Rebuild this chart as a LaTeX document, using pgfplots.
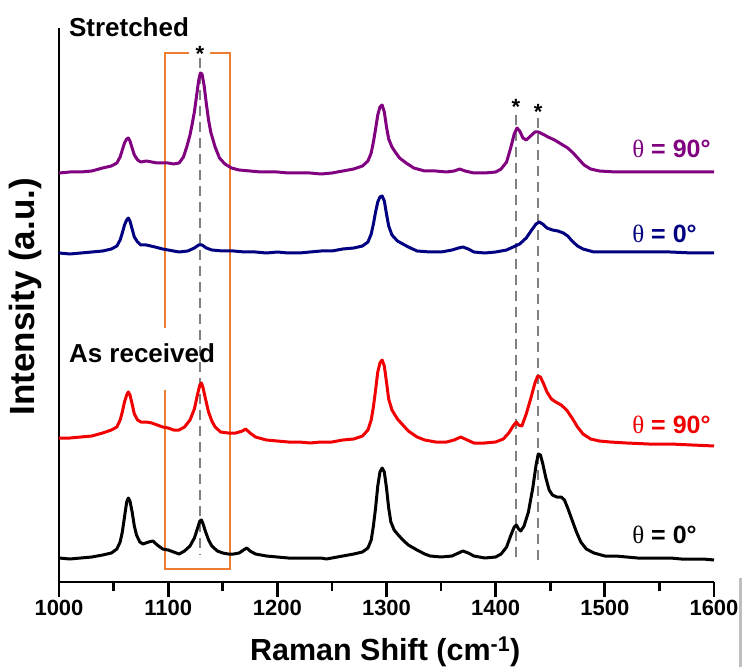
\documentclass[border=0pt]{standalone}
\usepackage{fontspec}
\setmainfont{Liberation Sans}
\newfontfamily\serif{Liberation Serif}
\usepackage{pgfplots}
\pgfplotsset{compat=1.18}

\definecolor{cpurple}{RGB}{128,0,128}
\definecolor{cnavy}{RGB}{0,0,128}
\definecolor{cred}{RGB}{240,0,0}
\definecolor{corange}{RGB}{237,125,49}
\definecolor{cdash}{RGB}{128,128,128}

% y values are offsets of each trace (arbitrary units)
\pgfplotstableread{
x y
1000 24
1010 23
1020 24
1030 25
1040 27
1048 29
1053 33
1056 40
1058 50
1060 65
1062 80
1063.5 84
1065 81
1067 70
1069 56
1071 47
1074 40
1077 38
1082 40
1086 41
1090 37
1095 33
1100 32
1105 30
1110 28
1115 31
1120 36
1124 44
1127 54
1129 61
1130.5 62
1132 58
1134 51
1137 42
1140 36
1145 31
1150 29
1155 28
1160 28
1165 29
1169 32
1172 34
1175 31
1180 28
1190 26
1200 25
1210 24
1220 24
1230 24
1240 24
1245 23
1250 24
1260 26
1270 28
1278 30
1283 34
1286 42
1288 56
1290 74
1292 96
1294 110
1296 114
1298 110
1300 94
1302 74
1304 60
1307 52
1310 48
1315 42
1320 37
1328 32
1335 28
1340 26
1350 25
1360 26
1366 29
1370 31
1375 29
1380 26
1390 24
1400 25
1405 28
1410 35
1414 47
1417 55
1419 57
1421 53
1423 51
1426 56
1430 70
1434 94
1437 117
1439 128
1441 127
1443 119
1446 104
1449 92
1452 87
1456 85
1460 85
1463 82
1466 74
1470 62
1474 50
1478 40
1483 33
1490 29
1500 26
1510 26
1520 25
1530 24
1540 24
1550 24
1560 24
1570 23
1580 23
1590 23
1600 22
}\blackzero

\pgfplotstableread{
x y
1000 144
1010 144
1020 145
1030 146
1040 149
1048 152
1053 155
1056 162
1058 170
1060 180
1062 187
1063.5 190
1065 187
1067 178
1069 168
1072 162
1075 160
1080 160
1085 159
1090 157
1095 155
1100 154
1105 152
1110 152
1115 155
1120 162
1124 173
1127 188
1129 197
1130.5 199
1132 194
1134 184
1137 170
1140 161
1143 155
1148 150
1155 149
1162 149
1168 151
1171 153
1175 149
1180 145
1190 142
1200 141
1210 140
1220 140
1230 139
1240 140
1250 140
1260 142
1270 143
1278 146
1283 152
1286 162
1288 175
1290 192
1292 210
1294 219
1296 222
1298 216
1300 200
1302 183
1305 172
1310 163
1315 157
1320 151
1328 145
1335 142
1345 140
1355 140
1362 142
1368 145
1372 143
1380 139
1390 139
1400 140
1407 143
1412 149
1416 156
1419 160
1421 157
1424 156
1428 168
1432 183
1436 199
1438.5 206
1441 205
1444 198
1447 190
1451 183
1455 180
1460 177
1465 172
1470 164
1475 155
1480 148
1487 143
1495 141
1505 140
1520 139
1540 138
1560 138
1580 137
1600 136
}\redninety

\pgfplotstableread{
x y
1000 329
1010 328
1020 329
1030 330
1040 331
1048 333
1053 336
1056 342
1058 349
1060 357
1062 362
1063.5 364
1065 361
1067 353
1069 345
1072 340
1075 337
1080 337
1088 335
1095 333
1100 332
1110 330
1118 331
1124 334
1128 337
1131 337
1135 334
1140 332
1150 331
1160 331
1170 330
1180 330
1190 329
1200 330
1210 329
1220 329
1230 330
1240 331
1250 331
1260 333
1270 334
1278 336
1283 340
1286 348
1288 358
1290 370
1292 380
1294 385
1296 386
1298 381
1300 368
1302 356
1305 347
1310 341
1315 338
1320 335
1328 331
1340 330
1350 330
1360 332
1366 334
1370 335
1375 333
1380 330
1390 329
1400 330
1410 332
1416 335
1422 338
1428 344
1433 352
1437 358
1440 360
1443 358
1447 354
1452 352
1457 351
1462 349
1466 346
1470 341
1475 336
1480 333
1490 330
1500 330
1520 330
1540 330
1560 330
1580 329
1600 329
}\navyzero

\pgfplotstableread{
x y
1000 409
1010 410
1020 410
1030 411
1040 414
1048 416
1053 419
1056 425
1058 432
1060 439
1062 443
1063.5 444
1065 441
1067 434
1069 427
1072 422
1075 420
1080 421
1085 420
1090 419
1095 419
1100 419
1105 418
1110 419
1114 425
1117 435
1120 447
1122 458
1124 470
1126 486
1128 502
1129.5 509
1131 508
1133 496
1135 478
1137 462
1139 450
1143 435
1147 424
1152 418
1158 414
1165 412
1175 411
1185 410
1200 410
1210 409
1220 409
1230 409
1240 408
1250 409
1260 411
1270 413
1278 416
1283 421
1286 429
1288 440
1290 453
1292 467
1294 475
1296 477
1298 470
1300 455
1302 443
1305 435
1308 430
1312 424
1318 419
1325 414
1335 411
1345 411
1355 410
1362 411
1367 413
1372 411
1380 409
1390 409
1400 410
1405 413
1410 420
1414 435
1417 448
1419.5 454
1422 451
1425 444
1428 442
1432 446
1436 450
1439 450
1443 448
1448 445
1454 442
1460 438
1466 434
1471 429
1476 423
1481 417
1487 413
1495 411
1510 410
1530 410
1550 410
1570 410
1590 410
1600 410
}\purpleninety

\begin{document}
\begin{tikzpicture}
\path[use as bounding box] (-59pt,-85pt) rectangle (683pt,582pt);
\begin{axis}[
  scale only axis,
  width=655pt,height=554pt,
  xmin=1000,xmax=1600,ymin=0,ymax=554,
  axis x line*=bottom,axis y line*=left,
  axis line style={line width=2.7pt},
  xtick={1000,1100,...,1600},minor x tick num=1,
  ytick=\empty,
  tick align=outside,
  major tick length=15pt,minor tick length=9pt,
  every tick/.style={black,line width=2.7pt},
  /pgf/number format/assume math mode=true,
  /pgf/number format/set thousands separator={},
  xticklabel style={font=\fontsize{22}{22}\selectfont\bfseries},
  xlabel={Raman Shift (cm\textsuperscript{-1})},
  xlabel style={font=\fontsize{30.5}{30.5}\selectfont\bfseries,
    at={(axis description cs:0.498,-0.141)},anchor=base},
  ylabel={Intensity (a.u.)},
  ylabel style={font=\fontsize{35}{35}\selectfont\bfseries,
    at={(axis description cs:-0.026,0.515)},anchor=south,inner sep=0pt},
  clip=false,
]
% orange box with gaps for labels
\addplot[corange,line width=2pt] coordinates {(1119,529) (1097,529) (1097,254)};
\addplot[corange,line width=2pt] coordinates {(1097,192) (1097,13) (1157,13) (1157,529) (1138,529)};
% dashed markers
\addplot[cdash,line width=1.5pt,dash pattern=on 10pt off 6pt] coordinates {(1129,524) (1129,27)};
\addplot[cdash,line width=1.5pt,dash pattern=on 10pt off 6pt] coordinates {(1418.5,467) (1418.5,20)};
\addplot[cdash,line width=1.5pt,dash pattern=on 10pt off 6pt] coordinates {(1439,464) (1439,20)};
% spectra
\addplot[black,line width=3pt,line join=round] table[x=x,y=y] {\blackzero};
\addplot[cred,line width=3pt,line join=round] table[x=x,y=y] {\redninety};
\addplot[cnavy,line width=3pt,line join=round] table[x=x,y=y] {\navyzero};
\addplot[cpurple,line width=3pt,line join=round] table[x=x,y=y] {\purpleninety};
% asterisks
\node[anchor=base,font=\fontsize{22}{22}\selectfont\bfseries] at (axis cs:1129,520) {*};
\node[anchor=base,font=\fontsize{22}{22}\selectfont\bfseries] at (axis cs:1418.5,467) {*};
\node[anchor=base,font=\fontsize{22}{22}\selectfont\bfseries] at (axis cs:1439,462) {*};
% group labels
\node[anchor=base west,inner sep=0pt,font=\fontsize{26}{26}\selectfont\bfseries] at (axis cs:1009,545) {Stretched};
\node[anchor=base west,inner sep=0pt,font=\fontsize{26}{26}\selectfont\bfseries] at (axis cs:1009,219) {As received};
% angle labels
\node[anchor=base west,inner sep=0pt,text=cpurple,font=\fontsize{25}{25}\selectfont\bfseries] at (axis cs:1525,424) {{\mdseries\serif θ} = 90°};
\node[anchor=base west,inner sep=0pt,text=cnavy,font=\fontsize{25}{25}\selectfont\bfseries] at (axis cs:1525,339) {{\mdseries\serif θ} = 0°};
\node[anchor=base west,inner sep=0pt,text=cred,font=\fontsize{25}{25}\selectfont\bfseries] at (axis cs:1525,149) {{\mdseries\serif θ} = 90°};
\node[anchor=base west,inner sep=0pt,text=black,font=\fontsize{25}{25}\selectfont\bfseries] at (axis cs:1525,39) {{\mdseries\serif θ} = 0°};
\end{axis}
\draw[black!25,line width=3pt] (681pt,4pt) -- (681pt,-85pt);
\end{tikzpicture}
\end{document}
